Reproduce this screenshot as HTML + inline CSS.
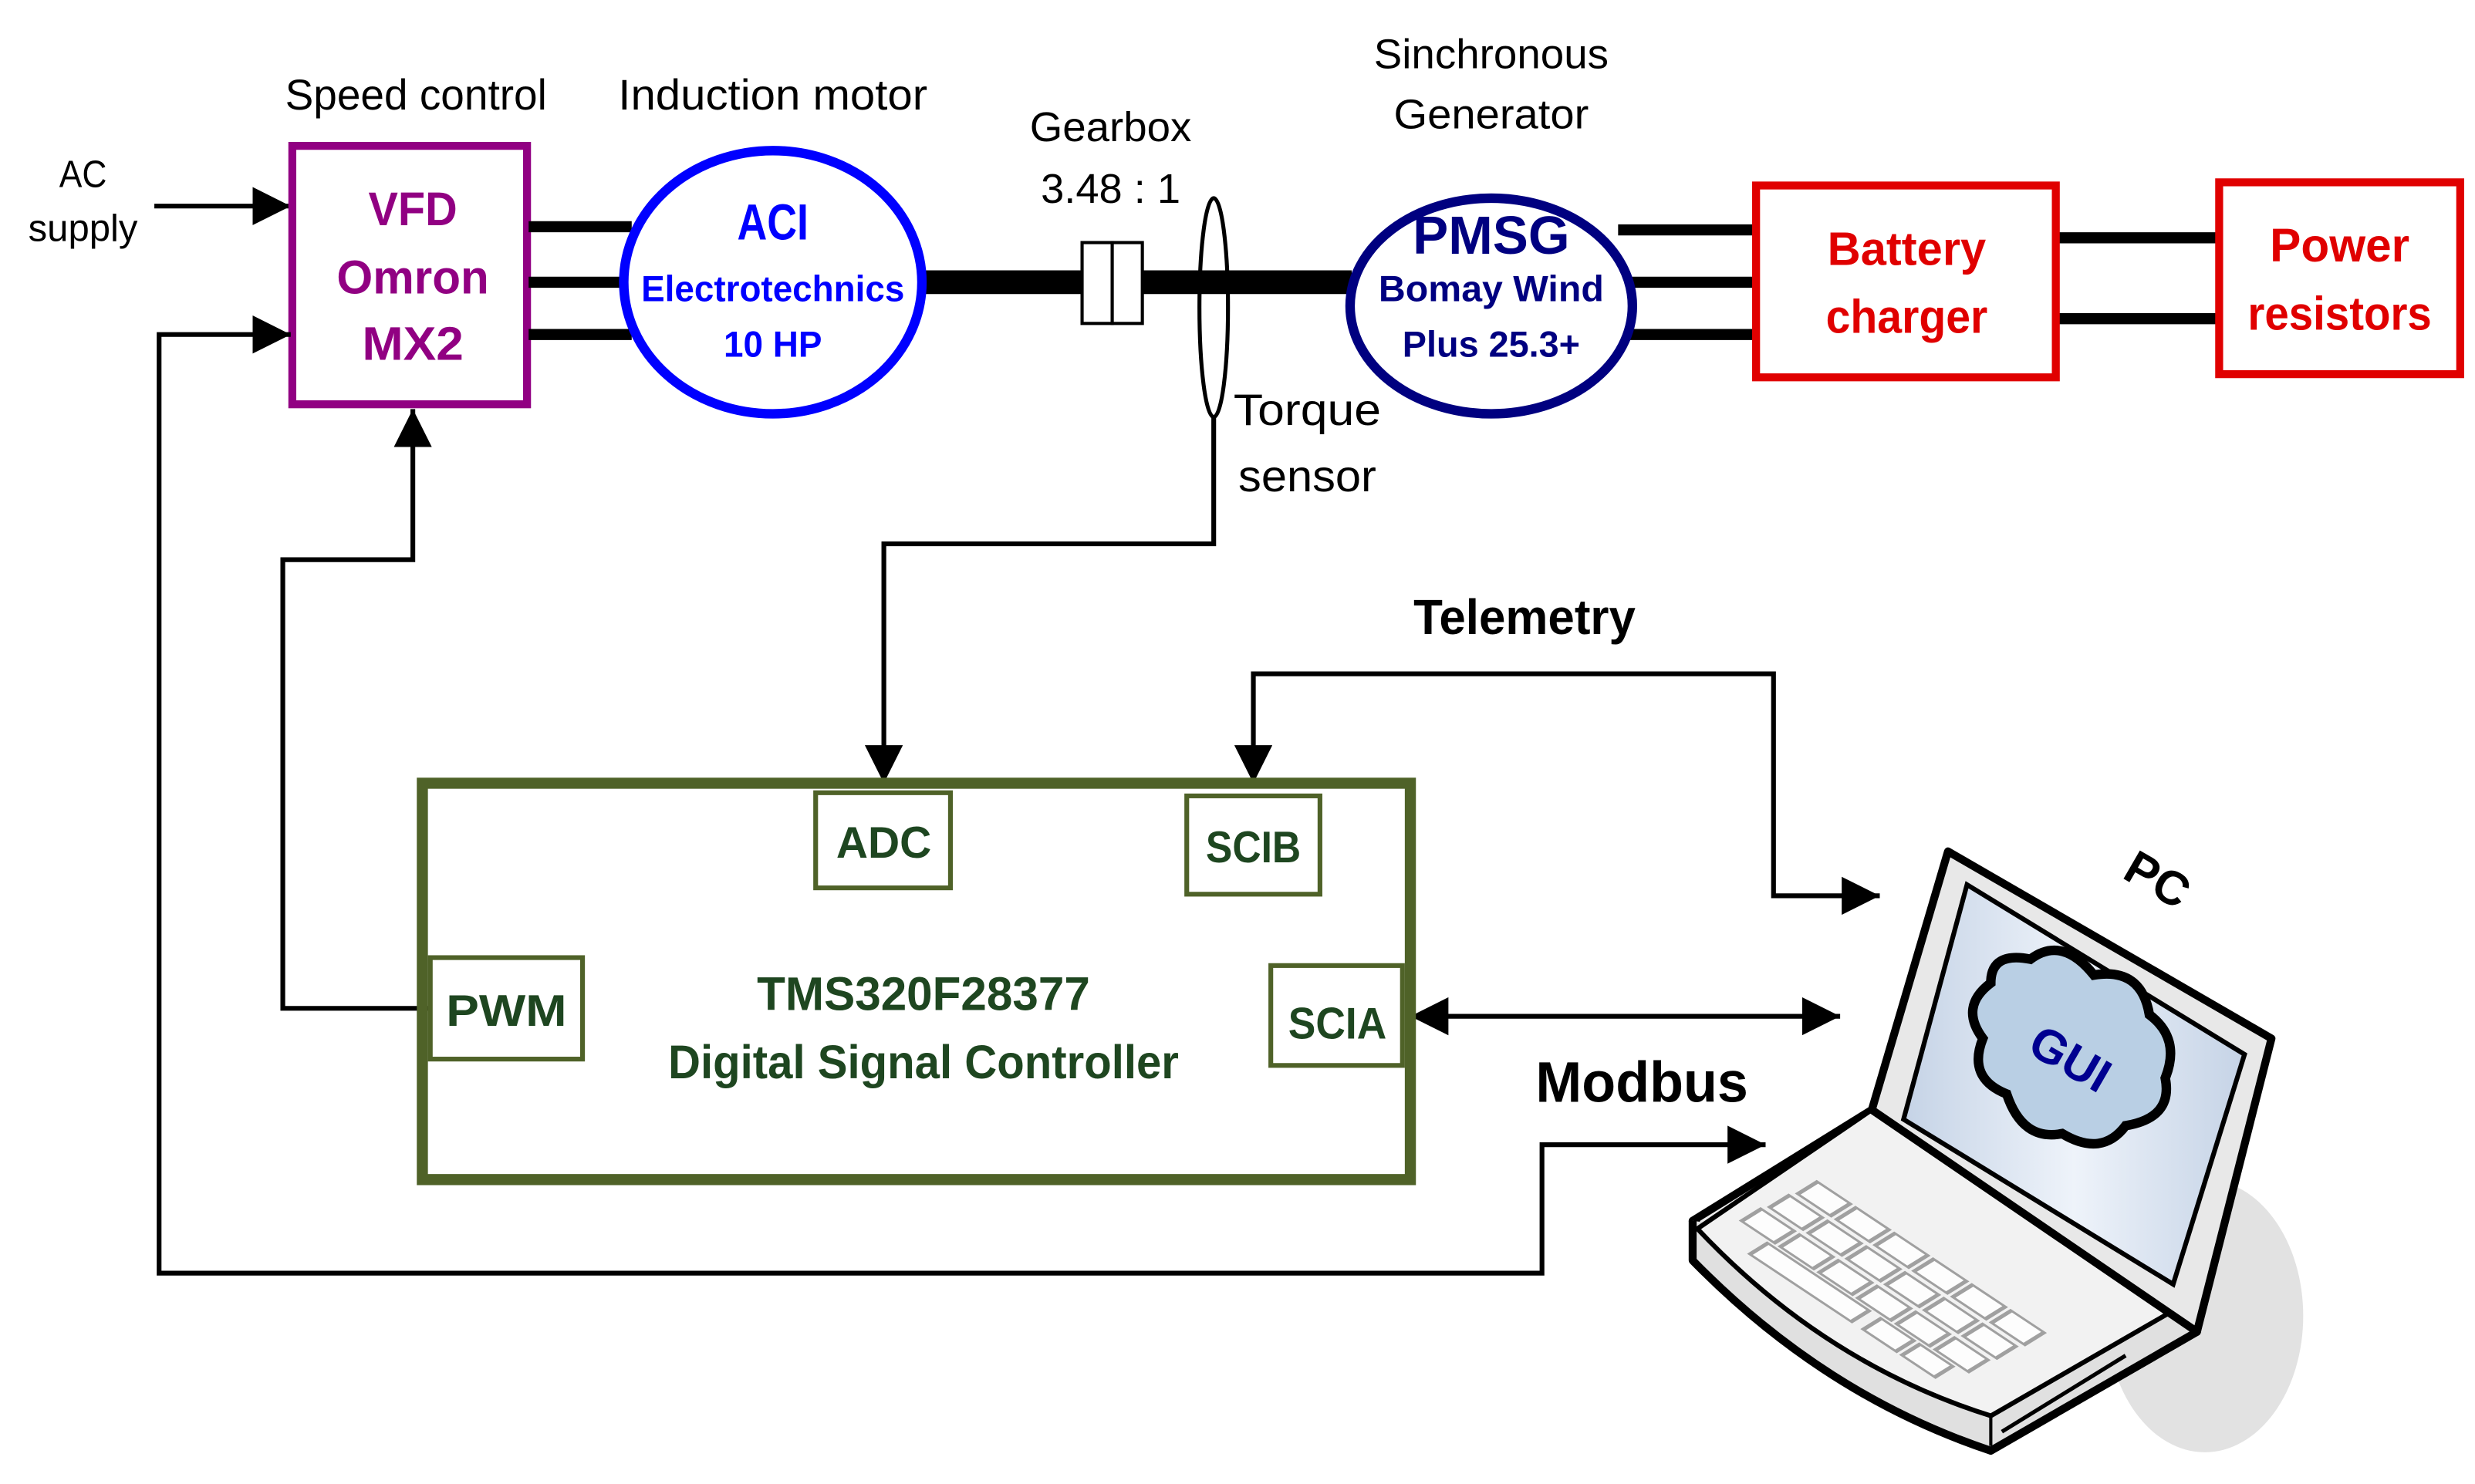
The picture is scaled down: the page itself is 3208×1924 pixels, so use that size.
<!DOCTYPE html>
<html><head><meta charset="utf-8"><style>
html,body{margin:0;padding:0;background:#fff}
svg{display:block}
text{font-family:"Liberation Sans",sans-serif;text-anchor:middle}
.b{font-weight:bold}
</style></head><body>
<svg width="3208" height="1924" viewBox="0 0 1560 936" xmlns="http://www.w3.org/2000/svg">
<defs>
<marker id="ar" viewBox="0 0 10 10" refX="10" refY="5" markerWidth="24" markerHeight="24" markerUnits="userSpaceOnUse" orient="auto-start-reverse"><path d="M0,0L10,5L0,10z" fill="#000"/></marker>
<linearGradient id="lg" x1="0" y1="0" x2="1" y2="1"><stop offset="0" stop-color="#f4f4f4"/><stop offset="1" stop-color="#c8c8c8"/></linearGradient>
<linearGradient id="sg" x1="0" y1="0" x2="1" y2="0"><stop offset="0" stop-color="#c5d3e6"/><stop offset="0.5" stop-color="#eef3fa"/><stop offset="1" stop-color="#c5d3e6"/></linearGradient>
</defs>

<text x="262" y="69" font-size="27" textLength="165" lengthAdjust="spacingAndGlyphs">Speed control</text>
<text x="487" y="69" font-size="27" textLength="195" lengthAdjust="spacingAndGlyphs">Induction motor</text>
<text x="700" y="89" font-size="26" textLength="102" lengthAdjust="spacingAndGlyphs">Gearbox</text>
<text x="700" y="128" font-size="26" textLength="88" lengthAdjust="spacingAndGlyphs">3.48 : 1</text>
<text x="940" y="43" font-size="26" textLength="148" lengthAdjust="spacingAndGlyphs">Sinchronous</text>
<text x="940" y="81" font-size="26" textLength="123" lengthAdjust="spacingAndGlyphs">Generator</text>
<text x="52" y="118" font-size="24" textLength="30" lengthAdjust="spacingAndGlyphs">AC</text>
<text x="52" y="152" font-size="24" textLength="69" lengthAdjust="spacingAndGlyphs">supply</text>

<line x1="97" y1="130" x2="183" y2="130" stroke="#000" stroke-width="3" marker-end="url(#ar)"/>

<rect x="184" y="92" width="148" height="163" fill="none" stroke="#910082" stroke-width="5"/>
<g fill="#910082" font-size="30">
<text x="260" y="142" class="b" textLength="56" lengthAdjust="spacingAndGlyphs">VFD</text>
<text x="260" y="185" class="b" textLength="96" lengthAdjust="spacingAndGlyphs">Omron</text>
<text x="260" y="227" class="b" textLength="64" lengthAdjust="spacingAndGlyphs">MX2</text></g>

<g stroke="#000" stroke-width="7">
<line x1="333" y1="143" x2="398" y2="143"/><line x1="333" y1="178" x2="393" y2="178"/><line x1="333" y1="211" x2="398" y2="211"/>
<line x1="1020" y1="145" x2="1106" y2="145"/><line x1="1025" y1="178" x2="1106" y2="178"/><line x1="1020" y1="211" x2="1106" y2="211"/>
<line x1="1297" y1="150" x2="1398" y2="150"/><line x1="1297" y1="201" x2="1398" y2="201"/>
</g>

<line x1="580" y1="178" x2="852" y2="178" stroke="#000" stroke-width="15"/>
<rect x="682" y="153" width="19" height="51" fill="#fff" stroke="#000" stroke-width="2"/>
<rect x="701" y="153" width="19" height="51" fill="#fff" stroke="#000" stroke-width="2"/>
<ellipse cx="765" cy="194" rx="9" ry="69" fill="none" stroke="#000" stroke-width="2.5"/>

<ellipse cx="487" cy="178" rx="94" ry="83" fill="#fff" stroke="#0000ff" stroke-width="6"/>
<g fill="#0000ff">
<text x="487" y="151" font-size="32" class="b" textLength="45" lengthAdjust="spacingAndGlyphs">ACI</text>
<text x="487" y="190" font-size="23" class="b" textLength="166" lengthAdjust="spacingAndGlyphs">Electrotechnics</text>
<text x="487" y="225" font-size="23" class="b" textLength="62" lengthAdjust="spacingAndGlyphs">10 HP</text></g>

<ellipse cx="940" cy="193" rx="89" ry="68" fill="#fff" stroke="#000080" stroke-width="6"/>
<g fill="#000080">
<text x="940" y="160" font-size="34" class="b" textLength="99" lengthAdjust="spacingAndGlyphs">PMSG</text>
<text x="940" y="190" font-size="23" class="b" textLength="142" lengthAdjust="spacingAndGlyphs">Bomay Wind</text>
<text x="940" y="225" font-size="23" class="b" textLength="112" lengthAdjust="spacingAndGlyphs">Plus 25.3+</text></g>

<rect x="1107" y="117" width="189" height="121" fill="#fff" stroke="#e00000" stroke-width="5"/>
<text x="1202" y="167" font-size="30" class="b" fill="#e00000" textLength="100" lengthAdjust="spacingAndGlyphs">Battery</text>
<text x="1202" y="210" font-size="30" class="b" fill="#e00000" textLength="102" lengthAdjust="spacingAndGlyphs">charger</text>
<rect x="1399" y="115" width="152" height="121" fill="#fff" stroke="#e00000" stroke-width="5"/>
<text x="1475" y="165" font-size="30" class="b" fill="#e00000" textLength="88" lengthAdjust="spacingAndGlyphs">Power</text>
<text x="1475" y="208" font-size="30" class="b" fill="#e00000" textLength="116" lengthAdjust="spacingAndGlyphs">resistors</text>

<text x="824" y="268" font-size="28" textLength="93" lengthAdjust="spacingAndGlyphs">Torque</text>
<text x="824" y="310" font-size="28" textLength="87" lengthAdjust="spacingAndGlyphs">sensor</text>

<g fill="none" stroke="#000" stroke-width="3">
<polyline points="765,263 765,343 557,343 557,494" marker-end="url(#ar)"/>
<polyline points="271,636 178,636 178,353 260,353 260,258" marker-end="url(#ar)"/>
<polyline points="1113,722 972,722 972,803 100,803 100,211 183,211" marker-start="url(#ar)" marker-end="url(#ar)"/>
<polyline points="1185,565 1118,565 1118,425 790,425 790,494" marker-start="url(#ar)" marker-end="url(#ar)"/>
<line x1="889" y1="641" x2="1160" y2="641" marker-start="url(#ar)" marker-end="url(#ar)"/>
</g>
<text x="961" y="400" font-size="31" class="b" textLength="140" lengthAdjust="spacingAndGlyphs">Telemetry</text>
<text x="1035" y="695" font-size="36" class="b" textLength="134" lengthAdjust="spacingAndGlyphs">Modbus</text>

<rect x="266" y="494" width="623" height="250" fill="none" stroke="#4f6228" stroke-width="7"/>
<g fill="#fff" stroke="#4f6228" stroke-width="3">
<rect x="514" y="500" width="85" height="60"/><rect x="748" y="502" width="84" height="62"/>
<rect x="271" y="604" width="96" height="64"/><rect x="801" y="609" width="83" height="63"/>
</g>
<g fill="#1e4620" font-size="28">
<text x="557" y="541" class="b" textLength="60" lengthAdjust="spacingAndGlyphs">ADC</text>
<text x="790" y="544" class="b" textLength="60" lengthAdjust="spacingAndGlyphs">SCIB</text>
<text x="319" y="647" class="b" textLength="76" lengthAdjust="spacingAndGlyphs">PWM</text>
<text x="843" y="655" class="b" textLength="62" lengthAdjust="spacingAndGlyphs">SCIA</text>
<text x="582" y="637" class="b" font-size="30" textLength="210" lengthAdjust="spacingAndGlyphs">TMS320F28377</text>
<text x="582" y="680" class="b" font-size="30" textLength="322" lengthAdjust="spacingAndGlyphs">Digital Signal Controller</text>
</g>

<!-- laptop -->
<ellipse cx="1390" cy="830" rx="62" ry="86" fill="#e2e2e2"/>
<polygon points="1180,700 1385,840 1255,915 1067,770" fill="url(#lg)" stroke="#000" stroke-width="5" stroke-linejoin="round"/>
<path d="M1067,770 L1067,795 Q1150,880 1255,915 L1385,840 L1390,815" fill="#e0e0e0" stroke="#000" stroke-width="5" stroke-linejoin="round"/>
<path d="M1070,775 Q1150,860 1255,893 L1385,818 L1180,700 Z" fill="#f2f2f2" stroke="#000" stroke-width="3"/>
<line x1="1255" y1="893" x2="1255" y2="912" stroke="#000" stroke-width="2"/>
<line x1="1262" y1="903" x2="1340" y2="855" stroke="#000" stroke-width="2.5"/>
<g transform="matrix(18.8,12.5,11.3,-7,1067,770)" fill="#fdfdfd" stroke="#a0a0a0" stroke-width="0.12">
<rect x="1.0" y="4.2" width="1.1" height="1.1"/><rect x="2.3" y="4.2" width="1.1" height="1.1"/><rect x="3.6" y="4.2" width="1.1" height="1.1"/><rect x="4.9" y="4.2" width="1.1" height="1.1"/><rect x="6.2" y="4.2" width="1.1" height="1.1"/><rect x="7.5" y="4.2" width="1.1" height="1.1"/>
<rect x="0.9" y="2.8" width="1.1" height="1.1"/><rect x="2.2" y="2.8" width="1.1" height="1.1"/><rect x="3.5" y="2.8" width="1.1" height="1.1"/><rect x="4.8" y="2.8" width="1.1" height="1.1"/><rect x="6.1" y="2.8" width="1.1" height="1.1"/><rect x="7.4" y="2.8" width="1.1" height="1.1"/>
<rect x="0.8" y="1.4" width="1.1" height="1.1"/><rect x="2.1" y="1.4" width="1.1" height="1.1"/><rect x="3.4" y="1.4" width="1.1" height="1.1"/><rect x="4.7" y="1.4" width="1.1" height="1.1"/><rect x="6.0" y="1.4" width="1.1" height="1.1"/><rect x="7.3" y="1.4" width="1.1" height="1.1"/>
<rect x="1.8" y="0.2" width="3.4" height="1.0"/><rect x="5.6" y="0.2" width="1.1" height="1.0"/><rect x="6.9" y="0.2" width="1.1" height="1.0"/>
</g>
<polygon points="1228,537 1432,655 1385,840 1180,700" fill="#e8e8e8" stroke="#000" stroke-width="5" stroke-linejoin="round"/>
<polygon points="1240,558 1415,665 1370,810 1200,706" fill="url(#sg)" stroke="#000" stroke-width="3"/>
<path d="M1255,620 Q1255,600 1280,605 Q1300,590 1320,615 Q1350,610 1355,640 Q1375,655 1365,680 Q1370,705 1340,710 Q1325,730 1300,715 Q1275,720 1265,690 Q1240,680 1250,655 Q1235,635 1255,620z" fill="#b9cfe4" stroke="#000" stroke-width="6"/>
<text x="1305" y="678" font-size="30" class="b" fill="#000090" transform="rotate(30 1305 668)">GUI</text>
<text x="1360" y="565" font-size="30" class="b" transform="rotate(30 1360 555)">PC</text>
</svg>
</body></html>
